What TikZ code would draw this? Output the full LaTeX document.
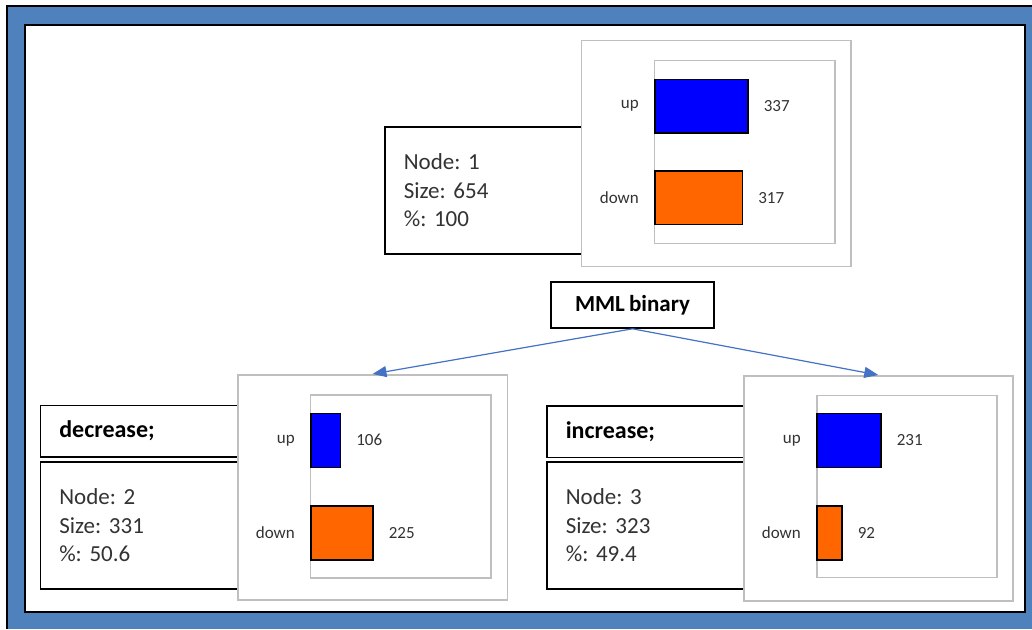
\documentclass[tikz,border=0pt]{standalone}
\usepackage{fontspec}
\setmainfont{Carlito}[WordSpace=0.8]
\frenchspacing
\usetikzlibrary{positioning,arrows.meta}

\definecolor{frameblue}{RGB}{79,129,189}
\definecolor{arrowblue}{RGB}{68,114,196}
\definecolor{barblue}{RGB}{0,0,255}
\definecolor{barorange}{RGB}{255,102,0}
\definecolor{panelgray}{RGB}{191,191,191}

\tikzset{
  infobox/.style={draw=black, line width=1.6pt, fill=white, anchor=north west,
    text width=200pt, inner xsep=19pt, align=left, minimum height=127pt,
    text=black!80, font=\fontsize{23}{28.5}\selectfont},
  headbox/.style={draw=black, line width=1.6pt, fill=white, anchor=north west,
    text width=200pt, inner xsep=19pt, align=left, minimum height=51.5pt,
    font=\fontsize{24}{28}\selectfont\bfseries},
  chartbox/.style={draw=panelgray, line width=1.5pt, fill=white, anchor=north west,
    minimum width=269.5pt, minimum height=225pt, inner sep=0pt},
  chartframe/.style={draw=panelgray, line width=1.5pt, anchor=north west,
    minimum width=180.5pt, minimum height=183pt, inner sep=0pt},
  bar/.style={draw=black, line width=1.6pt, anchor=north west,
    minimum height=54pt, inner sep=0pt},
  barlbl/.style={inner sep=0pt, text=black!80, font=\fontsize{17}{17}\selectfont},
  branch/.style={-{Triangle[length=14pt,width=11pt]}, draw=arrowblue, line width=1.2pt},
}

\begin{document}
\begin{tikzpicture}[x=1pt,y=-1pt]
  \useasboundingbox (0,0) rectangle (1032,629);

  % frame
  \fill[frameblue] (7,6) rectangle (1032,629);
  \draw[line width=2pt] (7,629) -- (7,6) -- (1032,6);
  \draw[fill=white, line width=2.5pt] (25,25) rectangle (1025,612);

  % node 1
  \node[infobox] (t1) at (384,126) {Node: 1\\Size: 654\\\%: 100};
  \node[chartbox, minimum height=226pt] (c1) at (580.5,39.5) {};
  \node[chartframe] (f1) at (653.5,59.5) {};
  \node[bar, fill=barblue, minimum width=93pt, minimum height=53.5pt] (u1) at (654,78.5) {};
  \node[bar, fill=barorange, minimum width=87.5pt, minimum height=53.5pt] (d1) at (654,170) {};
  \node[barlbl, left=15pt of u1] {up};
  \node[barlbl, right=15pt of u1] {337};
  \node[barlbl, left=15pt of d1] {down};
  \node[barlbl, right=15pt of d1] {317};

  % split
  \node[draw, line width=1.6pt, fill=white, minimum width=163pt, minimum height=46pt,
    font=\fontsize{23}{23}\selectfont\bfseries] (mml) at (632.5,305) {MML binary};

  % node 2
  \node[headbox] (h2) at (39.5,404.5) {decrease;};
  \node[infobox] (t2) at (39.5,461) {Node: 2\\Size: 331\\\%: 50.6};
  \node[chartbox] (c2) at (237,374) {};
  \node[chartframe] (f2) at (309.5,394) {};
  \node[bar, fill=barblue, minimum width=29.5pt] (u2) at (310,412.5) {};
  \node[bar, fill=barorange, minimum width=62pt] (d2) at (310,505) {};
  \node[barlbl, left=15pt of u2] {up};
  \node[barlbl, right=15pt of u2] {106};
  \node[barlbl, left=15pt of d2] {down};
  \node[barlbl, right=15pt of d2] {225};

  % node 3
  \node[headbox] (h3) at (546,405) {increase;};
  \node[infobox] (t3) at (546,461) {Node: 3\\Size: 323\\\%: 49.4};
  \node[chartbox, minimum width=269pt] (c3) at (743,375) {};
  \node[chartframe, minimum width=180pt, minimum height=182pt] (f3) at (816,394.5) {};
  \node[bar, fill=barblue, minimum width=64pt] (u3) at (816,412.5) {};
  \node[bar, fill=barorange, minimum width=25pt] (d3) at (816,505) {};
  \node[barlbl, left=15pt of u3] {up};
  \node[barlbl, right=15pt of u3] {231};
  \node[barlbl, left=15pt of d3] {down};
  \node[barlbl, right=15pt of d3] {92};

  \draw[branch] (mml.south) -- (c2.north);
  \draw[branch] (mml.south) -- (c3.north);
\end{tikzpicture}
\end{document}
